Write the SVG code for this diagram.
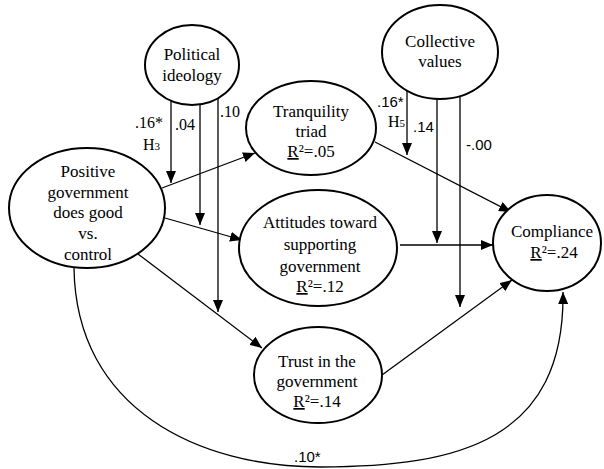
<svg xmlns="http://www.w3.org/2000/svg" width="604" height="469" viewBox="0 0 604 469">
<defs>
<marker id="ah" viewBox="0 0 12 10" refX="12" refY="5" markerWidth="12" markerHeight="10" markerUnits="userSpaceOnUse" orient="auto">
<path d="M0,0 L12,5 L0,10 Z" fill="#000"/>
</marker>
<style>
.node{fill:#fff;stroke:#000;stroke-width:2}
.t{font-size:17px;fill:#000;text-anchor:middle}
.l{font-size:16px;fill:#000}
.s{font-size:15px;fill:#000}
.c{fill:none;stroke:#000;stroke-width:1.3}
.u{text-decoration:underline}
</style>
</defs>
<rect width="604" height="469" fill="#fff"/>
<g id="connectors">
<line class="c" x1="171" y1="101" x2="171" y2="183" marker-end="url(#ah)"/>
<line class="c" x1="200" y1="104" x2="200" y2="225" marker-end="url(#ah)"/>
<line class="c" x1="218" y1="98" x2="218" y2="312" marker-end="url(#ah)"/>
<line class="c" x1="407" y1="91" x2="407" y2="155" marker-end="url(#ah)"/>
<line class="c" x1="437" y1="99" x2="437" y2="243" marker-end="url(#ah)"/>
<line class="c" x1="460" y1="96" x2="460" y2="307" marker-end="url(#ah)"/>
<line class="c" x1="162" y1="188" x2="255" y2="153" marker-end="url(#ah)"/>
<line class="c" x1="165" y1="218" x2="242" y2="240" marker-end="url(#ah)"/>
<line class="c" x1="138" y1="254" x2="262" y2="348" marker-end="url(#ah)"/>
<line class="c" x1="375" y1="142" x2="511" y2="212" marker-end="url(#ah)"/>
<line class="c" x1="400" y1="245" x2="493" y2="245" marker-end="url(#ah)"/>
<line class="c" x1="382" y1="375" x2="512" y2="280" marker-end="url(#ah)"/>
<path class="c" d="M74,268 C76,410 200,467 320,467 C460,467 565,440 563,292" marker-end="url(#ah)"/>
</g>
<g font-family="Liberation Serif, Times New Roman, serif">
<g id="political-ideology">
<ellipse class="node" cx="192" cy="65" rx="47" ry="40"/>
<text class="t" x="192" y="60">Political</text>
<text class="t" x="192" y="81">ideology</text>
</g>
<g id="collective-values">
<ellipse class="node" cx="440" cy="52" rx="58" ry="47"/>
<text class="t" x="440" y="47">Collective</text>
<text class="t" x="440" y="67">values</text>
</g>
<g id="tranquility-triad">
<ellipse class="node" cx="311" cy="128" rx="65" ry="47"/>
<text class="t" x="311" y="117">Tranquility</text>
<text class="t" x="311" y="137">triad</text>
<text class="t" x="311" y="157"><tspan class="u">R</tspan>²=.05</text>
</g>
<g id="positive-government">
<ellipse class="node" cx="87" cy="208" rx="78" ry="60"/>
<text class="t" x="88" y="177">Positive</text>
<text class="t" x="88" y="198">government</text>
<text class="t" x="88" y="218">does good</text>
<text class="t" x="88" y="239">vs.</text>
<text class="t" x="88" y="260">control</text>
</g>
<g id="attitudes">
<ellipse class="node" cx="318" cy="248" rx="79" ry="58"/>
<text class="t" x="320" y="228">Attitudes toward</text>
<text class="t" x="320" y="250">supporting</text>
<text class="t" x="320" y="272">government</text>
<text class="t" x="320" y="292"><tspan class="u">R</tspan>²=.12</text>
</g>
<g id="trust">
<ellipse class="node" cx="318" cy="375" rx="64" ry="48"/>
<text class="t" x="317" y="367">Trust in the</text>
<text class="t" x="317" y="387">government</text>
<text class="t" x="317" y="407"><tspan class="u">R</tspan>²=.14</text>
</g>
<g id="compliance">
<ellipse class="node" cx="547" cy="243" rx="54" ry="48"/>
<text class="t" x="552" y="237">Compliance</text>
<text class="t" x="554" y="258"><tspan class="u">R</tspan>²=.24</text>
</g>
<g id="labels-serif">
<text class="l" x="135" y="128">.16*</text>
<text class="l" x="143" y="150">H<tspan font-size="11">3</tspan></text>
<text class="l" x="175" y="130">.04</text>
<text class="l" x="220" y="117">.10</text>
<text class="l" x="388" y="127">H<tspan font-size="11">5</tspan></text>
</g>
</g>
<g id="labels-sans" font-family="Liberation Sans, Arial, sans-serif">
<text class="s" x="377" y="107">.16*</text>
<text class="s" x="413" y="132">.14</text>
<text class="s" x="466" y="150">-.00</text>
<text class="s" x="294" y="462">.10*</text>
</g>
</svg>
